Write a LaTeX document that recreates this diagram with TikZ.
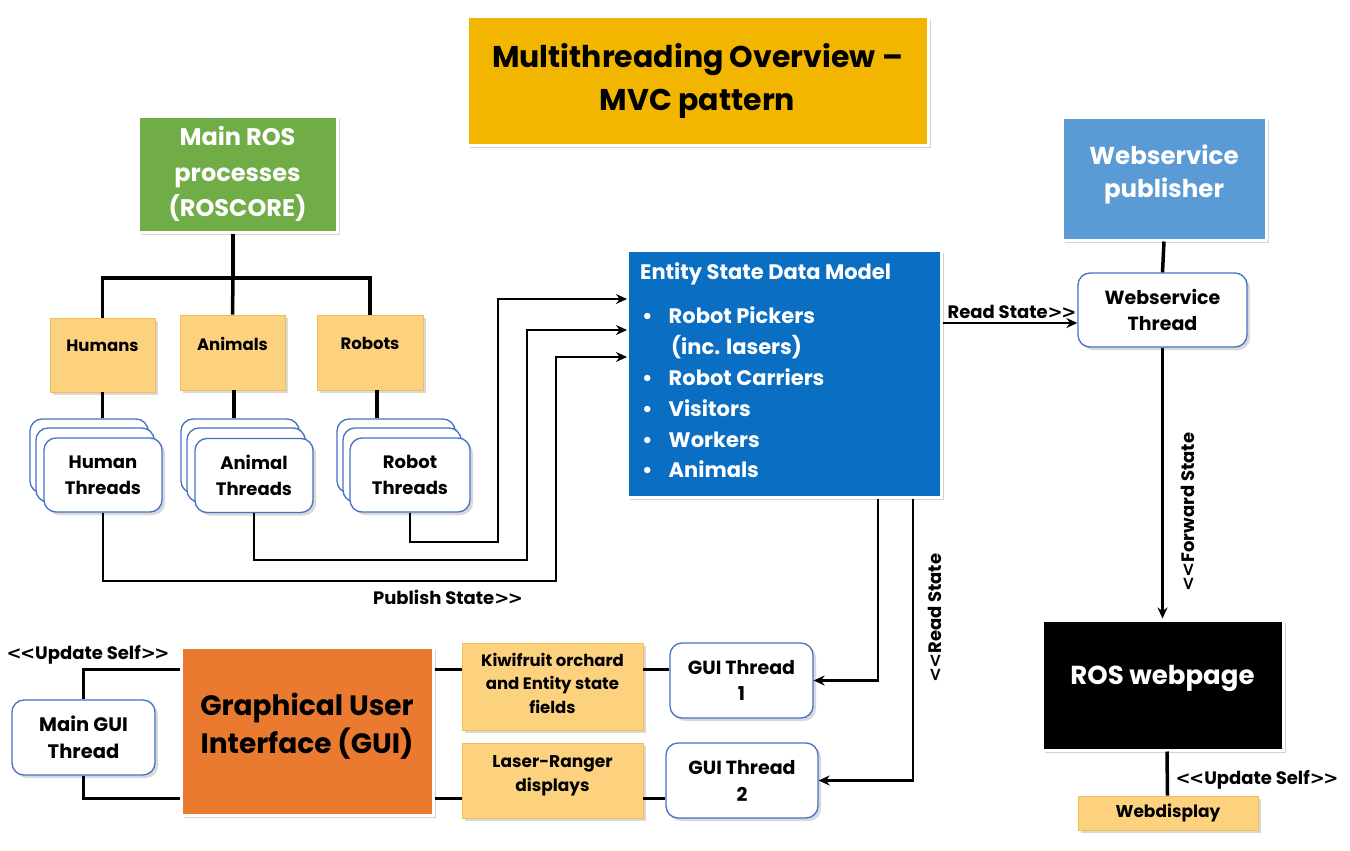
\documentclass[tikz,border=0pt]{standalone}
\usepackage{fontspec}
\setmainfont{Poppins}
\newfontfamily\symf{DejaVu Sans}
\usetikzlibrary{shadows,arrows.meta,positioning}
\definecolor{gold}{HTML}{F2B600}
\definecolor{rosgreen}{HTML}{70AD47}
\definecolor{esdmblue}{HTML}{0A6EC2}
\definecolor{wsblue}{HTML}{5B9BD5}
\definecolor{guior}{HTML}{E97A30}
\definecolor{lightor}{HTML}{FCD27E}
\definecolor{lightedge}{HTML}{F0BE55}
\definecolor{threadblue}{HTML}{4472C4}
\newcommand\myfs[2]{\fontsize{#1}{#2}\selectfont}
\newcommand\myll{{\symf\bfseries <\kern-1.5pt<}}
\newcommand\mygg{{\symf\bfseries >\kern-1.5pt>}}
\tikzset{
  bigbox/.style={draw=white, line width=3pt, align=center, inner sep=0pt,
    drop shadow={opacity=0.35, shadow xshift=3pt, shadow yshift=-3pt}},
  lightbox/.style={fill=lightor, draw=lightedge, line width=0.8pt, align=center, inner sep=0pt,
    drop shadow={opacity=0.3, shadow xshift=3pt, shadow yshift=-3pt}},
  thread/.style={fill=white, draw=threadblue, line width=1.3pt, rounded corners=12pt,
    align=center, inner sep=0pt, minimum width=118pt, minimum height=74pt,
    font=\bfseries\myfs{18}{26},
    drop shadow={opacity=0.3, shadow xshift=3pt, shadow yshift=-3pt}},
  wire/.style={line width=3.5pt},
  arrow/.style={line width=2.5pt, -{Stealth[length=11pt,width=10pt]}},
  lbl/.style={font=\bfseries\myfs{18}{20}, inner sep=1pt},
}
\begin{document}
\begin{tikzpicture}[x=1pt,y=-1pt]
\useasboundingbox (0,0) rectangle (1350,851);
% title
\node[bigbox, fill=gold, minimum width=461pt, minimum height=128pt, font=\bfseries\myfs{30}{43}, text depth=9pt] (title) at (697.5,81) {Multithreading Overview --\\MVC pattern};
% main ROS
\node[bigbox, fill=rosgreen, text=white, minimum width=199pt, minimum height=116pt, font=\bfseries\myfs{24}{35.5}] (ros) at (237.5,174) {Main ROS\\processes\\(ROSCORE)};
% webservice publisher
\node[bigbox, fill=wsblue, text=white, minimum width=204pt, minimum height=123pt, font=\bfseries\myfs{24.5}{33}, text depth=14pt] (wsp) at (1164,178.5) {Webservice\\publisher};
% ESDM
\node[bigbox, fill=esdmblue, minimum width=314pt, minimum height=247pt] (esdm) at (784,373.5) {};
\node[anchor=north west, text=white, font=\bfseries\myfs{21}{30.8}, align=left, inner sep=0pt] (esdmtxt) at (640,262) {Entity State Data Model\\[14pt]
\hspace*{2pt}\textbullet\hspace{16pt}Robot Pickers\\
\hspace*{31pt}(inc. lasers)\\
\hspace*{2pt}\textbullet\hspace{16pt}Robot Carriers\\
\hspace*{2pt}\textbullet\hspace{16pt}Visitors\\
\hspace*{2pt}\textbullet\hspace{16pt}Workers\\
\hspace*{2pt}\textbullet\hspace{16pt}Animals};
% category boxes
\node[lightbox, minimum width=105pt, minimum height=74pt, font=\bfseries\myfs{16.5}{20}, text depth=18pt] (humans) at (102.5,355) {Humans};
\node[lightbox, minimum width=105pt, minimum height=75pt, font=\bfseries\myfs{16.5}{20}, text depth=18pt] (animals) at (232.5,352.5) {Animals};
\node[lightbox, minimum width=106pt, minimum height=75pt, font=\bfseries\myfs{16.5}{20}, text depth=18pt] (robots) at (370,352.5) {Robots};
% thread stacks
\node[thread] (ht3) at (89,456) {};
\node[thread] (ht2) at (95,465) {};
\node[thread] (ht1) at (103,475) {Human\\Threads};
\node[thread] (at3) at (240,456) {};
\node[thread] (at2) at (246,465) {};
\node[thread] (at1) at (254,475.5) {Animal\\Threads};
\node[thread] (rt3) at (396,456) {};
\node[thread] (rt2) at (402,465) {};
\node[thread, minimum width=120pt] (rt1) at (410,475) {Robot\\Threads};
% webservice thread
\node[thread, minimum width=169pt, font=\bfseries\myfs{19}{26}] (wst) at (1162.5,310) {Webservice\\Thread};
% ROS webpage
\node[bigbox, fill=black, text=white, minimum width=241pt, minimum height=130pt, font=\bfseries\myfs{26}{30}, text depth=20pt] (rosweb) at (1162.5,685) {ROS webpage};
\node[lightbox, minimum width=180pt, minimum height=34pt, font=\bfseries\myfs{17}{20}] (webdisp) at (1168,813) {Webdisplay};
% GUI
\node[bigbox, fill=guior, minimum width=252pt, minimum height=168pt, font=\bfseries\myfs{28}{38}, text depth=16pt] (gui) at (307,731) {Graphical User\\Interface (GUI)};
\node[thread, minimum width=143pt, minimum height=75pt, font=\bfseries\myfs{19.5}{27}] (mgt) at (83.5,737.5) {Main GUI\\Thread};
\node[lightbox, minimum width=181pt, minimum height=87pt, font=\bfseries\myfs{16.5}{23.5}, text depth=7pt] (kiwi) at (552.5,686.5) {Kiwifruit orchard\\and Entity state\\fields};
\node[lightbox, minimum width=181pt, minimum height=75pt, font=\bfseries\myfs{17}{24}, text depth=14pt] (laser) at (552.5,780.5) {Laser-Ranger\\displays};
\node[thread, minimum width=143pt, minimum height=75pt, font=\bfseries\myfs{19}{26}] (gt1) at (741.5,680.5) {GUI Thread\\1};
\node[thread, minimum width=152pt, minimum height=75pt, font=\bfseries\myfs{19}{27}] (gt2) at (742,780.5) {GUI Thread\\2};
% tree
\coordinate (tj) at (233,278);
\draw[wire] (tj |- ros.south) -- (tj);
\draw[wire] (humans.north) |- (tj) -| (robots.north);
\draw[wire] (tj) -- (animals.north);
\draw[wire] (humans.south) -- (humans.south |- ht3.north);
\draw[wire] ([xshift=1.5pt]animals.south) -- ([xshift=1.5pt]animals.south |- at3.north);
\draw[wire] ([xshift=7pt]robots.south) -- ([xshift=7pt]robots.south |- rt3.north);
% publish
\coordinate (in1) at (627,299);
\coordinate (in2) at (627,330);
\coordinate (in3) at (627,357);
\coordinate (rA) at (498,542);
\coordinate (aA) at (527,560);
\coordinate (hA) at (556,581);
\draw[arrow] (rt1.south) |- (rA) |- (in1);
\draw[arrow] (at1.south) |- (aA) |- (in2);
\draw[arrow] (ht1.south) |- (hA) |- (in3);
\node[lbl] (pub) at (448,597) {Publish State\mygg};
% read state to webservice
\coordinate (rs) at (1000,323);
\draw[arrow] (esdm.east |- rs) -- (wst.west |- rs);
\node[lbl, anchor=south] (rslbl) at (1012,320) {Read State\mygg};
\draw[wire] (wsp.south) -- (wst.north);
\draw[arrow] (wst.south) -- (rosweb.north);
\node[lbl, rotate=90] (fwd) at (1188,512) {\myll Forward State};
\draw[wire] ([xshift=4.5pt]rosweb.south) -- ([xshift=-0.5pt]webdisp.north);
\node[lbl] (upd2) at (1257,780) {\myll Update Self\mygg};
% ESDM to GUI threads
\draw[arrow] ([xshift=94pt]esdm.south) |- (gt1.east);
\draw[arrow] ([xshift=129pt]esdm.south) |- (gt2.east);
\node[lbl, rotate=90] (rdl) at (935,618) {\myll Read State};
% GUI wiring
\coordinate (g1) at ([yshift=-24pt]gui.north east);
\coordinate (g2) at ([yshift=18pt]gui.south east);
\coordinate (g3) at ([yshift=-24pt]gui.north west);
\coordinate (g4) at ([yshift=18pt]gui.south west);
\draw[wire] (g3) -| (mgt.north);
\draw[wire] (mgt.south) |- (g4);
\node[lbl] (upd1) at (88,655) {\myll Update Self\mygg};
\draw[wire] (g1) -- (g1 -| kiwi.west);
\draw[wire] (g1 -| kiwi.east) -- (g1 -| gt1.west);
\draw[wire] (g2) -- (g2 -| laser.west);
\draw[wire] (g2 -| laser.east) -- (g2 -| gt2.west);
\end{tikzpicture}
\end{document}
